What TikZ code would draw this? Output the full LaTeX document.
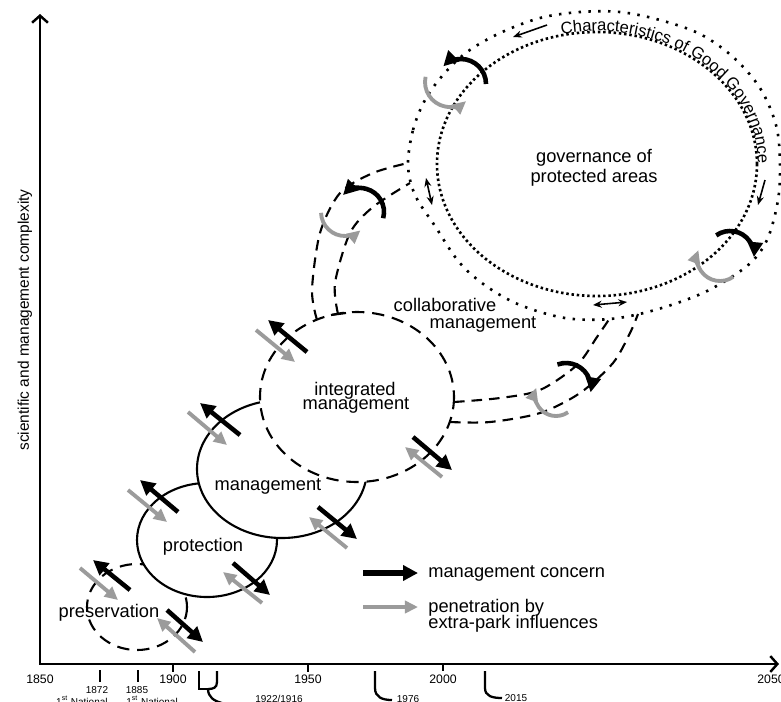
\documentclass[tikz,border=0pt]{standalone}
\usepackage{fontspec}
\setmainfont{Liberation Sans}
\usetikzlibrary{arrows.meta,decorations.text}
\definecolor{arrgray}{RGB}{155,155,155}
\begin{document}
\begin{tikzpicture}[x=0.02cm,y=-0.02cm,
  lbl/.style={font=\fontsize{10.4}{12}\selectfont, inner sep=0pt, anchor=base},
  lblw/.style={font=\fontsize{10.4}{12}\selectfont, inner sep=0pt, anchor=base west},
  yr/.style={font=\fontsize{7}{8}\selectfont, inner sep=0pt, anchor=base},
  sm/.style={font=\fontsize{5.7}{7}\selectfont, inner sep=0pt, anchor=base},
  axisline/.style={line width=1.4pt, {Straight Barb[length=4pt,width=9pt]}-{Straight Barb[length=4pt,width=9pt]}},
  tickline/.style={line width=1.3pt},
  solidring/.style={line width=1.2pt, fill=white},
  dashring/.style={line width=1.2pt, dash pattern=on 7pt off 4.5pt, fill=white},
  armline/.style={line width=1.2pt, dash pattern=on 6pt off 4pt},
  densedots/.style={line width=1.5pt, dash pattern=on 1.4pt off 1.6pt},
  sparsedots/.style={line width=1.5pt, dash pattern=on 1.4pt off 4.2pt},
  blackarr/.style={line width=2.6pt, -{Triangle[length=8.5pt,width=8.5pt]}},
  grayarr/.style={draw=arrgray, line width=2.2pt, -{Triangle[length=7.5pt,width=7pt]}},
  thinarr/.style={line width=0.9pt, -{Stealth[length=5pt,width=4pt]}},
  thinboth/.style={line width=0.9pt, {Stealth[length=5pt,width=4pt]}-{Stealth[length=5pt,width=4pt]}},
]
\useasboundingbox (0,0) rectangle (781,701);

% axes
\draw[axisline] (40,14) -- (40,664) -- (779,664);
\draw[tickline] (100,670) -- (100,682);
\draw[tickline] (138,670) -- (138,682);
\draw[tickline] (173,664) -- (173,672);
\draw[tickline] (308,664) -- (308,672);
\draw[tickline] (443,664) -- (443,671);
\draw[tickline] (199,671) -- (199,689) -- (208,689);
\draw[tickline] (217,671) -- (217,682) .. controls (217,688) and (213,689) .. (208,689);
\draw[tickline] (208,689) .. controls (208,697) and (214,701) .. (222,703);
\draw[tickline] (375,671) -- (375,688) .. controls (375,697) and (382,700) .. (392,700);
\draw[tickline] (485,671) -- (485,688) .. controls (485,696) and (492,698) .. (502,698);

\node[yr] (y1850) at (40,683) {1850};
\node[yr] (y1900) at (173,683) {1900};
\node[yr] (y1950) at (308,683) {1950};
\node[yr] (y2000) at (443,683) {2000};
\node[yr] (y2050) at (771,683) {2050};
\node[sm] (y1872) at (97,693) {1872};
\node[sm] (y1885) at (137,693) {1885};
\node[sm, anchor=base east] (n1872) at (108,705) {1\textsuperscript{st} National};
\node[sm, anchor=base west] (n1885) at (126,705) {1\textsuperscript{st} National};
\node[sm] (y1922) at (279,702) {1922/1916};
\node[sm] (y1976) at (408,702) {1976};
\node[sm] (y2015) at (516,701) {2015};

\node[rotate=90, font=\fontsize{8.8}{10}\selectfont, inner sep=0pt] (ylab) at (25,320) {scientific and management complexity};

% stage circles
\draw[dashring] (137,607) circle[x radius=50, y radius=43];
\draw[solidring] (207,540) circle[x radius=70, y radius=57];
\draw[solidring] (282,469) circle[x radius=85, y radius=69];
\draw[dashring] (357,397) circle[x radius=97, y radius=85];

% collaborative arms
\draw[armline] plot[smooth] coordinates {(317,320) (312,290) (320,233) (340,193) (373,173) (408,163)};
\draw[armline] plot[smooth] coordinates {(338,314) (335,283) (350,233) (373,207) (410,183)};
\draw[line width=1.2pt] (331,315) -- (346,313);
\draw[armline] plot[smooth] coordinates {(454,402) (500,398) (540,390) (577,365) (597,337) (610,318)};
\draw[armline] plot[smooth] coordinates {(450,422) (490,422) (540,413) (580,393) (613,363) (630,333) (638,314)};

% governance rings
\draw[sparsedots] plot[smooth cycle, tension=0.55] coordinates {
  (408,165) (413,130) (425,100) (443,75) (467,52) (500,33) (540,18) (580,12)
  (620,12) (660,20) (700,34) (733,57) (760,88) (776,125) (780,162) (778,200)
  (767,240) (747,266) (705,292) (655,310) (610,319) (565,318) (520,305)
  (486,286) (459,262) (435,226) (415,195)};
\draw[densedots] (597,164) circle[x radius=160, y radius=132];
\path[decorate, decoration={text along path, text align=center,
   text={|\fontsize{9.4}{11}\selectfont|Characteristics of Good Governance}}]
   (597,164) ++(-106:161 and 133) arc[start angle=-106, end angle=4, x radius=161, y radius=133];

% labels
\node[lbl] (gov1) at (594,162) {governance of};
\node[lbl] (gov2) at (594,182) {protected areas};
\node[lbl] (col1) at (445,311) {collaborative};
\node[lbl] (col2) at (483,328) {management};
\node[lbl] (int1) at (355,395) {integrated};
\node[lbl] (int2) at (356,409) {management};
\node[lbl] (man) at (268,490) {management};
\node[lbl] (pro) at (203,551) {protection};
\node[lbl] (pre) at (109,617) {preservation};

% straight arrow pairs
\draw[blackarr] (130,590) -- (93,560);   \draw[grayarr] (80,568) -- (118,600);
\draw[blackarr] (178,512) -- (140,480);  \draw[grayarr] (128,490) -- (167,522);
\draw[blackarr] (167,610) -- (203,642);  \draw[grayarr] (195,652) -- (157,618);
\draw[blackarr] (233,563) -- (270,595);  \draw[grayarr] (262,603) -- (223,572);
\draw[blackarr] (240,435) -- (200,403);  \draw[grayarr] (188,412) -- (227,445);
\draw[blackarr] (307,352) -- (268,320);  \draw[grayarr] (256,330) -- (295,362);
\draw[blackarr] (413,437) -- (452,470);  \draw[grayarr] (442,477) -- (405,447);
\draw[blackarr] (318,507) -- (357,539);  \draw[grayarr] (347,548) -- (309,517);

% rotating arrows
\draw[blackarr] (360,212) ++(15:24) arc[start angle=15, end angle=-135, radius=24];
\draw[grayarr] (345,212) ++(178:24) arc[start angle=178, end angle=50, radius=24];
\draw[blackarr] (461,84) ++(0:25) arc[start angle=0, end angle=-135, radius=25];
\draw[grayarr] (450,82) ++(192:25) arc[start angle=192, end angle=50, radius=25];
\draw[blackarr] (730,255) ++(-125:24) arc[start angle=-125, end angle=5, radius=24];
\draw[grayarr] (720,258) ++(55:23) arc[start angle=55, end angle=200, radius=23];
\draw[blackarr] (566,388) ++(-110:25) arc[start angle=-110, end angle=10, radius=25];
\draw[grayarr] (556,395) ++(55:21) arc[start angle=55, end angle=200, radius=21];

% thin arrows
\draw[thinarr] (547,25) -- (513,37);
\draw[thinarr] (765,180) -- (758,205);
\draw[thinboth] (426,178) -- (432,205);
\draw[thinboth] (593,305) -- (627,302);

% legend
\draw[blackarr, line width=3pt] (363,573) -- (418,573);
\draw[grayarr] (363,607) -- (418,607);
\node[lblw] (leg1) at (428,577) {management concern};
\node[lblw] (leg2) at (428,612) {penetration by};
\node[lblw] (leg3) at (428,628) {extra-park influences};
\end{tikzpicture}
\end{document}
